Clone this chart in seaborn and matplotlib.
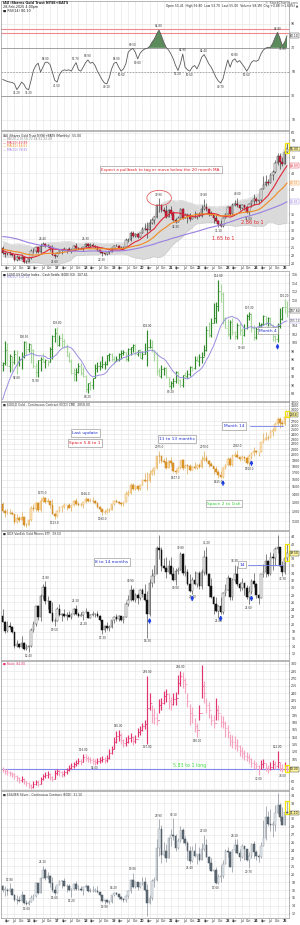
import numpy as np
import pandas as pd
import matplotlib
matplotlib.use("Agg")
import matplotlib.pyplot as plt
from matplotlib.patches import Ellipse, Rectangle
from matplotlib.ticker import MaxNLocator, FixedLocator, FuncFormatter, NullLocator
import seaborn as sns

# ------------------------------------------------------------------ data
months = pd.date_range("2015-02-01", periods=121, freq="MS")

rsi = [43.7, 42.9, 42.0, 41.5, 41.2, 40.1, 35.2, 38.0, 41.5, 39.6,
       36.0, 35.2, 42.9, 51.2, 55.3, 57.2, 49.8, 53.9, 58.0, 58.0,
       56.1, 49.8, 42.9, 41.5, 47.8, 50.6, 51.7, 51.2, 51.7, 50.6,
       54.5, 57.7, 51.7, 50.6, 53.9, 57.7, 59.9, 57.2, 58.0, 55.3,
       50.6, 47.0, 43.4, 40.7, 40.1, 45.1, 52.5, 57.2, 58.0, 53.9,
       50.6, 52.5, 56.7, 66.3, 68.5, 69.5, 66.3, 60.8, 65.5, 67.7,
       69.1, 69.6, 71.0, 74.6, 77.3, 81.5, 84.8, 80.1, 74.6, 70.4,
       68.2, 64.9, 60.8, 55.3, 51.2, 56.7, 64.9, 53.9, 51.7, 50.6,
       53.9, 55.3, 52.5, 56.7, 62.2, 64.4, 60.8, 56.7, 53.9, 49.8,
       45.6, 42.4, 40.7, 44.3, 52.5, 59.9, 53.9, 59.4, 60.8, 58.0,
       59.4, 56.7, 53.9, 50.6, 53.9, 58.0, 59.4, 58.8, 59.9, 64.9,
       68.2, 69.8, 70.4, 70.4, 73.8, 78.7, 82.8, 78.2, 71.8, 74.6,
       80.1]

iau_pre = [25.6, 27.1, 27.7, 29.9, 29.5, 28.8, 31.3, 35.1, 31.2, 33.2, 33.6, 30.1,
           33.4, 32.9, 32.1, 32.0, 30.0, 30.7, 31.1, 32.5, 34.1, 33.1, 32.9, 32.2,
           32.0, 30.3, 30.7, 28.4, 26.8, 23.7, 25.3, 26.8, 25.5, 25.4, 24.0, 23.1,
           23.9, 25.5, 24.7, 24.9, 24.0, 25.5, 24.7, 24.7, 23.3, 22.5, 22.6, 22.8,
           24.7]
iau_close = [23.3, 22.8, 22.8, 22.9, 22.5, 21.1, 21.8, 21.4, 22.0, 20.5, 20.4,
             21.5, 23.8, 23.7, 24.9, 23.4, 25.4, 26.0, 25.2, 25.3, 24.6, 22.6, 22.2,
             23.3, 24.0, 24.0, 24.4, 24.4, 23.9, 24.4, 25.4, 24.6, 24.4, 24.5, 25.1,
             25.9, 25.3, 25.5, 25.3, 25.0, 24.1, 23.5, 23.1, 22.9, 23.4, 23.5, 24.7,
             25.4, 25.3, 24.8, 24.7, 25.1, 27.1, 27.2, 29.2, 28.3, 29.1, 28.2, 29.2,
             30.5, 30.5, 30.3, 32.4, 33.3, 34.3, 38.0, 37.8, 36.3, 36.1, 34.2, 36.4,
             35.5, 33.3, 32.8, 34.0, 36.7, 34.0, 34.9, 34.9, 33.5, 34.3, 34.1, 35.2,
             34.5, 36.7, 37.3, 36.5, 35.3, 34.8, 33.9, 32.9, 31.9, 31.4, 34.0, 35.1,
             37.1, 35.1, 37.9, 38.3, 37.8, 36.9, 37.8, 37.3, 35.6, 38.2, 39.2, 39.7,
             39.2, 39.3, 42.9, 44.0, 44.8, 44.7, 47.1, 48.1, 50.7, 52.8, 51.1, 50.5,
             54.1, 55.0]
iau_high = [25.2, 23.5, 23.5, 23.7, 23.2, 22.6, 22.5, 22.3, 22.9, 22.0, 20.9,
            21.7, 24.3, 24.7, 25.1, 25.1, 26.2, 26.4, 26.3, 26.0, 25.3, 25.7, 22.7,
            23.5, 24.3, 24.3, 24.9, 24.5, 24.9, 24.5, 25.6, 26.1, 25.1, 25.0, 25.1,
            26.3, 26.2, 26.1, 26.3, 25.5, 25.2, 24.3, 23.6, 23.3, 23.9, 23.8, 24.7,
            25.5, 25.9, 25.5, 25.2, 25.1, 27.7, 27.9, 29.9, 29.9, 29.2, 29.2, 29.3,
            31.0, 32.5, 32.8, 33.6, 33.9, 34.4, 38.2, 39.9, 38.3, 37.2, 37.8, 36.7,
            37.7, 36.0, 33.8, 34.6, 36.8, 36.9, 35.3, 35.2, 35.3, 34.9, 36.1, 35.2,
            35.6, 38.0, 39.8, 38.4, 36.7, 36.1, 34.9, 34.8, 33.4, 33.3, 34.3, 35.3,
            37.5, 37.7, 38.6, 39.4, 40.0, 38.1, 38.2, 37.9, 37.6, 38.6, 39.5, 41.1,
            40.2, 39.5, 43.0, 46.8, 47.1, 45.9, 47.8, 48.7, 51.6, 53.7, 53.9, 52.4,
            54.2, 56.8]
iau_low = [22.9, 22.0, 22.5, 22.5, 22.3, 20.7, 20.8, 21.1, 21.3, 20.2, 20.1,
           20.4, 21.3, 23.2, 23.2, 23.1, 23.1, 25.2, 25.0, 25.1, 23.9, 22.5, 21.6,
           22.1, 23.1, 23.0, 23.9, 23.3, 23.8, 23.2, 24.4, 24.5, 24.2, 24.3, 23.8,
           25.0, 25.1, 25.1, 25.0, 24.7, 23.9, 23.3, 22.3, 22.7, 22.7, 23.0, 23.5,
           24.5, 25.2, 24.6, 24.3, 24.4, 25.1, 26.6, 26.9, 28.1, 28.1, 27.8, 28.0,
           29.2, 30.1, 27.9, 30.1, 32.1, 32.1, 33.8, 35.8, 35.6, 35.8, 33.9, 34.2,
           34.7, 33.0, 32.3, 32.8, 34.0, 33.7, 34.0, 32.5, 33.1, 33.5, 33.8, 33.7,
           34.2, 34.3, 36.3, 36.0, 34.4, 34.7, 32.3, 32.9, 31.1, 31.1, 31.1, 33.9,
           35.1, 34.7, 34.8, 37.5, 37.2, 36.4, 36.6, 36.3, 35.5, 34.8, 37.1, 37.9,
           38.5, 38.2, 39.2, 42.8, 43.8, 44.0, 44.6, 45.5, 47.5, 50.1, 48.8, 49.7,
           50.3, 53.7]
iau_open = [24.7] + iau_close[:-1]

usd_pre = [80.4, 79.8, 81.5, 82.8, 86.0, 86.9, 88.4, 90.3, 94.8]
usd_close = [95.3, 98.4, 94.6, 96.9, 95.5, 97.3, 95.8, 96.3, 97.0, 100.2, 98.6,
             99.6, 98.2, 94.6, 93.1, 95.9, 96.1, 95.5, 96.0, 95.5, 98.5, 101.5, 102.2,
             99.5, 101.1, 100.4, 99.0, 97.0, 95.6, 92.9, 92.7, 93.1, 94.6, 93.0, 92.1,
             89.1, 90.6, 90.0, 91.8, 94.0, 94.5, 94.5, 95.1, 95.1, 97.1, 97.3, 96.2,
             95.6, 96.2, 97.3, 97.5, 97.8, 96.1, 98.5, 98.9, 99.4, 97.4, 98.3, 96.4,
             97.4, 98.1, 99.0, 99.0, 98.3, 97.4, 93.3, 92.1, 93.9, 94.0, 91.9, 89.9,
             90.6, 90.9, 93.2, 91.3, 90.0, 92.4, 92.1, 92.6, 94.2, 94.1, 96.0, 95.7,
             96.6, 96.7, 98.3, 103.0, 101.8, 104.7, 105.9, 108.7, 112.1, 111.5, 105.9, 103.5,
             102.1, 104.9, 102.5, 101.7, 104.3, 102.9, 101.9, 103.6, 106.2, 106.7, 103.5, 101.3,
             103.3, 104.2, 104.5, 106.2, 104.7, 105.9, 104.1, 101.7, 100.8, 104.0, 105.7, 108.5,
             108.4, 107.6]
usd_high = [95.5, 100.4, 100.0, 97.4, 97.0, 98.2, 98.3, 96.8, 97.8, 100.5, 100.5,
            100.0, 99.8, 98.6, 95.2, 96.0, 96.7, 97.6, 96.2, 96.0, 99.1, 101.9, 103.6,
            103.8, 101.8, 102.3, 101.0, 99.7, 97.9, 96.3, 94.1, 94.0, 95.2, 95.2, 94.2,
            92.5, 90.6, 90.9, 91.8, 95.0, 95.5, 95.7, 96.9, 95.7, 97.2, 97.7, 97.7,
            96.9, 97.0, 97.7, 98.3, 98.4, 97.9, 98.7, 99.0, 99.7, 99.7, 98.4, 98.5,
            98.0, 99.9, 103.0, 100.9, 100.6, 98.3, 97.8, 94.0, 94.7, 94.3, 94.3, 92.0,
            91.0, 91.6, 93.4, 93.4, 91.4, 92.4, 93.2, 93.7, 94.5, 94.6, 96.9, 96.9,
            97.4, 97.8, 99.4, 103.9, 105.0, 105.8, 109.3, 109.5, 114.8, 113.9, 111.9, 106.0,
            105.6, 105.4, 105.9, 102.8, 104.7, 104.7, 103.5, 104.4, 106.8, 107.3, 107.1, 104.3,
            103.8, 104.9, 104.7, 106.5, 106.4, 106.1, 106.1, 104.4, 101.9, 104.6, 108.1, 108.5,
            110.2, 109.9]
usd_low = [93.4, 94.8, 94.5, 93.1, 93.3, 95.0, 92.6, 94.5, 93.8, 96.4, 97.2,
           97.9, 95.2, 94.0, 91.9, 91.9, 93.4, 95.4, 94.0, 94.5, 95.4, 96.3, 100.2,
           99.2, 99.2, 98.9, 98.8, 96.8, 95.5, 92.6, 91.0, 91.0, 92.8, 92.4, 91.9,
           88.4, 88.2, 89.0, 89.2, 91.6, 93.2, 93.7, 94.1, 93.8, 94.8, 95.7, 95.8,
           95.0, 95.6, 95.7, 96.3, 97.1, 95.8, 95.8, 97.1, 97.9, 97.1, 97.0, 96.4,
           96.2, 97.3, 94.6, 98.8, 97.9, 95.7, 92.5, 92.1, 91.7, 92.5, 91.8, 89.7,
           89.2, 89.7, 90.6, 90.4, 89.5, 89.5, 91.8, 91.8, 92.3, 93.3, 93.9, 95.6,
           94.6, 95.2, 97.0, 98.1, 101.3, 101.3, 104.6, 104.6, 107.6, 109.5, 104.4, 103.4,
           101.5, 100.8, 101.9, 100.8, 100.8, 101.9, 99.6, 101.7, 103.3, 105.3, 102.5, 100.6,
           101.0, 103.3, 102.4, 104.2, 104.1, 104.0, 103.9, 100.5, 100.2, 100.2, 103.4, 105.4,
           107.0, 106.1]
usd_open = [94.8] + usd_close[:-1]

gold_close = [1212, 1183, 1184, 1190, 1172, 1095, 1133, 1115, 1142, 1065, 1061,
              1118, 1238, 1233, 1293, 1215, 1322, 1351, 1309, 1316, 1277, 1173, 1152,
              1211, 1249, 1249, 1268, 1269, 1242, 1269, 1322, 1280, 1271, 1275, 1303,
              1345, 1318, 1325, 1315, 1299, 1253, 1224, 1201, 1192, 1215, 1222, 1282,
              1321, 1313, 1292, 1284, 1305, 1409, 1413, 1520, 1472, 1513, 1464, 1517,
              1587, 1585, 1577, 1687, 1730, 1781, 1975, 1968, 1886, 1879, 1776, 1895,
              1848, 1734, 1708, 1769, 1906, 1770, 1814, 1813, 1743, 1783, 1774, 1829,
              1796, 1909, 1937, 1897, 1837, 1807, 1765, 1711, 1661, 1633, 1768, 1824,
              1928, 1827, 1969, 1990, 1963, 1919, 1965, 1940, 1849, 1984, 2036, 2063,
              2039, 2044, 2230, 2286, 2327, 2326, 2447, 2503, 2634, 2744, 2657, 2625,
              2812, 2858]
gold_high = [1309, 1224, 1224, 1232, 1205, 1175, 1170, 1157, 1191, 1142, 1088,
             1128, 1263, 1283, 1304, 1304, 1362, 1375, 1367, 1352, 1317, 1338, 1182,
             1220, 1264, 1262, 1295, 1272, 1296, 1275, 1331, 1357, 1306, 1299, 1306,
             1366, 1361, 1356, 1365, 1326, 1309, 1266, 1225, 1214, 1243, 1237, 1284,
             1326, 1346, 1324, 1310, 1306, 1439, 1453, 1555, 1557, 1519, 1516, 1525,
             1611, 1689, 1704, 1747, 1765, 1789, 1984, 2075, 1992, 1933, 1965, 1906,
             1959, 1871, 1755, 1798, 1913, 1917, 1833, 1832, 1834, 1814, 1877, 1831,
             1853, 1974, 2070, 1998, 1909, 1879, 1814, 1808, 1735, 1729, 1786, 1833,
             1949, 1959, 2009, 2049, 2082, 1983, 1987, 1972, 1953, 2009, 2052, 2135,
             2088, 2055, 2236, 2431, 2450, 2388, 2483, 2531, 2685, 2790, 2801, 2726,
             2817, 2956]
gold_low = [1191, 1142, 1170, 1170, 1162, 1077, 1080, 1098, 1110, 1052, 1046,
            1061, 1107, 1208, 1207, 1199, 1199, 1310, 1302, 1304, 1241, 1171, 1123,
            1147, 1200, 1195, 1244, 1214, 1236, 1204, 1267, 1275, 1260, 1264, 1236,
            1302, 1307, 1303, 1302, 1282, 1245, 1211, 1160, 1180, 1182, 1196, 1221,
            1276, 1311, 1281, 1266, 1267, 1306, 1382, 1400, 1459, 1459, 1445, 1458,
            1517, 1563, 1451, 1567, 1670, 1671, 1757, 1863, 1849, 1860, 1764, 1776,
            1802, 1717, 1677, 1706, 1766, 1750, 1767, 1688, 1721, 1741, 1759, 1753,
            1780, 1781, 1890, 1872, 1787, 1805, 1681, 1709, 1615, 1618, 1616, 1765,
            1823, 1805, 1810, 1950, 1932, 1893, 1902, 1885, 1846, 1810, 1931, 1973,
            2002, 1984, 2039, 2228, 2277, 2287, 2318, 2364, 2471, 2604, 2537, 2583,
            2614, 2790]
gold_open = [1283] + gold_close[:-1]

gdx_close = [20.7, 18.2, 19.4, 19.3, 17.8, 14.0, 14.6, 13.7, 15.0, 13.3, 13.7,
             14.0, 18.3, 20.0, 24.9, 22.1, 27.7, 30.2, 26.4, 26.4, 23.2, 20.8, 20.9,
             24.3, 22.6, 22.8, 22.3, 22.5, 22.1, 22.7, 24.1, 22.9, 22.4, 22.6, 23.3,
             23.3, 21.7, 22.5, 22.8, 22.9, 22.3, 21.2, 18.3, 19.4, 19.0, 19.2, 21.1,
             22.0, 21.4, 22.3, 21.1, 22.0, 25.6, 26.8, 29.3, 26.7, 28.1, 27.1, 29.3,
             28.4, 26.7, 22.8, 31.3, 33.2, 33.9, 41.0, 40.3, 36.1, 35.4, 34.4, 36.0,
             33.9, 32.2, 34.6, 35.0, 39.2, 34.0, 34.3, 31.0, 29.2, 32.1, 31.1, 34.0,
             30.5, 34.3, 38.4, 33.8, 30.6, 27.4, 25.6, 23.6, 24.9, 23.3, 28.6, 29.5,
             32.7, 27.4, 32.1, 33.9, 31.1, 30.0, 31.3, 30.0, 27.4, 28.8, 31.9, 31.0,
             28.0, 27.2, 33.7, 34.4, 37.3, 33.9, 38.4, 38.3, 40.7, 41.1, 35.9, 34.4,
             38.3, 39.5]
gdx_high = [24.3, 21.0, 21.0, 20.7, 19.6, 17.8, 15.8, 15.0, 16.7, 15.1, 14.6,
            14.2, 18.9, 21.0, 25.0, 25.4, 28.4, 31.1, 31.8, 27.9, 26.5, 26.0, 21.6,
            24.7, 25.6, 23.1, 24.2, 23.3, 23.6, 23.1, 24.5, 25.3, 23.3, 23.5, 23.3,
            24.5, 23.3, 22.8, 23.6, 23.0, 23.6, 22.6, 21.3, 19.9, 20.5, 19.8, 21.3,
            22.3, 22.7, 22.6, 22.4, 22.2, 26.0, 28.0, 30.9, 30.0, 28.7, 28.5, 29.8,
            30.0, 31.0, 29.1, 32.4, 35.1, 36.2, 41.6, 44.5, 41.2, 38.2, 38.6, 37.7,
            38.5, 35.7, 35.4, 35.7, 39.8, 39.6, 36.2, 35.1, 33.7, 33.0, 34.5, 34.1,
            34.5, 35.1, 40.5, 41.2, 34.2, 32.6, 27.7, 27.4, 25.4, 27.6, 28.9, 31.0,
            33.6, 32.8, 32.6, 36.3, 36.0, 31.6, 32.6, 31.4, 30.7, 30.5, 32.5, 34.0,
            31.4, 28.4, 33.8, 36.5, 39.4, 37.6, 39.8, 39.7, 41.2, 44.4, 41.3, 37.5,
            38.8, 41.9]
gdx_low = [20.5, 17.5, 17.9, 18.8, 17.6, 13.4, 13.7, 13.5, 13.6, 12.9, 12.9,
           12.4, 13.9, 17.9, 19.5, 21.1, 21.0, 27.0, 25.6, 24.3, 23.0, 20.5, 19.5,
           20.8, 22.4, 20.8, 22.0, 21.3, 22.0, 21.5, 22.6, 22.6, 22.1, 22.2, 21.2,
           23.0, 21.6, 21.6, 22.3, 22.1, 22.1, 21.0, 17.3, 17.8, 18.3, 18.2, 19.1,
           20.4, 21.0, 20.8, 20.9, 20.4, 21.9, 24.9, 26.3, 26.3, 26.2, 25.6, 26.7,
           27.5, 26.3, 16.3, 22.2, 30.1, 31.4, 33.8, 38.0, 34.5, 35.2, 32.7, 33.9,
           33.5, 31.8, 30.9, 33.7, 34.8, 33.4, 33.3, 30.9, 28.9, 28.4, 30.8, 30.1,
           29.6, 29.7, 33.4, 33.4, 27.6, 27.3, 22.9, 23.4, 21.8, 22.9, 22.9, 27.8,
           29.4, 26.8, 26.6, 31.6, 30.6, 29.1, 29.5, 28.1, 26.9, 25.6, 28.4, 30.1,
           27.1, 25.6, 27.1, 32.9, 33.1, 33.2, 33.4, 34.9, 36.4, 39.7, 35.6, 33.3,
           33.9, 37.4]
gdx_open = [22.4] + gdx_close[:-1]

ratio_close = [84, 80, 78, 76, 74, 70, 66, 62, 64, 60, 56, 52, 48, 54, 58, 55, 64, 70, 73, 74,
               68, 65, 76, 80, 78, 75, 78, 82, 88, 92, 95, 98, 102, 100, 110, 108, 106, 104, 102, 100,
               101, 103, 106, 104, 108, 118, 125, 140, 152, 155, 145, 138, 140, 148, 150, 142, 146, 160, 165, 172,
               178, 210, 220, 195, 190, 185, 215, 220, 235, 238, 225, 218, 228, 230, 262, 275, 268, 258, 225, 200,
               195, 172, 165, 200, 255, 240, 215, 205, 185, 180, 205, 200, 182, 180, 168, 160, 142, 140, 135, 132,
               122, 118, 112, 110, 106, 98, 95, 92, 85, 95, 98, 88, 85, 90, 95, 92, 100, 88, 86, 92,
               84]
ratio_high = [90, 86, 84, 81, 79, 76, 72, 68, 70, 66, 61, 58, 55, 60, 63, 62, 69, 75, 78, 80,
              76, 71, 82, 86, 84, 81, 83, 88, 94, 98, 100, 104, 108, 106, 116, 115, 112, 110, 108, 106,
              107, 109, 112, 110, 114, 125, 132, 150, 162, 165, 158, 146, 150, 155, 158, 152, 154, 168, 172, 180,
              186, 276, 240, 215, 210, 200, 228, 230, 245, 248, 240, 232, 240, 242, 278, 286, 283, 272, 240, 218,
              212, 190, 180, 215, 297, 265, 230, 222, 198, 195, 230, 215, 196, 194, 184, 176, 156, 154, 152, 146,
              134, 130, 124, 120, 116, 108, 104, 100, 94, 104, 106, 98, 94, 100, 104, 102, 122, 100, 95, 100,
              94]
ratio_low = [78, 75, 73, 71, 68, 64, 60, 56, 58, 54, 50, 47, 45, 47, 52, 50, 55, 63, 66, 67,
             62, 60, 64, 73, 71, 68, 70, 75, 80, 84, 88, 91, 95, 94, 100, 101, 99, 97, 95, 94,
             95, 97, 99, 98, 100, 106, 115, 125, 138, 142, 136, 130, 132, 138, 140, 135, 138, 150, 155, 162,
             166, 137, 205, 180, 178, 175, 200, 205, 218, 222, 208, 206, 215, 216, 238, 255, 250, 240, 212, 176,
             180, 160, 150, 185, 230, 220, 200, 190, 175, 168, 185, 186, 170, 168, 150, 148, 132, 128, 125, 122,
             112, 108, 104, 102, 98, 90, 86, 84, 72, 84, 88, 80, 76, 82, 86, 84, 88, 80, 78, 82,
             78]
ratio_open = [86] + ratio_close[:-1]
ratio_level = 86

silver_close = [16.6, 16.6, 16.3, 16.7, 15.6, 14.7, 14.6, 14.5, 15.5, 14.1, 13.8,
                14.3, 15.0, 15.4, 17.8, 16.0, 18.7, 20.4, 18.7, 19.2, 17.8, 16.5, 15.9,
                17.5, 18.3, 18.2, 17.2, 17.3, 16.6, 16.7, 17.6, 16.7, 16.7, 16.5, 17.1,
                17.3, 16.4, 16.3, 16.4, 16.4, 16.1, 15.5, 14.5, 14.7, 14.2, 14.2, 15.5,
                16.0, 15.7, 15.1, 14.9, 14.6, 15.3, 16.4, 18.4, 17.0, 18.1, 17.0, 17.9,
                18.0, 16.6, 14.0, 15.0, 18.2, 18.4, 24.4, 28.0, 23.2, 23.9, 22.6, 26.4,
                26.9, 26.7, 24.5, 25.9, 27.9, 26.1, 25.5, 24.0, 22.1, 24.0, 22.9, 23.4,
                22.3, 24.3, 25.1, 22.8, 21.7, 20.2, 20.3, 17.8, 19.0, 19.2, 21.5, 24.0,
                23.8, 20.9, 24.1, 25.0, 23.6, 22.8, 24.8, 24.2, 22.3, 22.9, 25.3, 23.8,
                23.0, 22.7, 24.9, 26.4, 30.4, 29.1, 28.9, 28.9, 31.1, 32.7, 30.3, 28.9,
                31.3, 31.1]
silver_high = [17.4, 17.2, 16.8, 17.8, 16.9, 15.8, 15.6, 15.3, 16.4, 15.6, 14.6,
               14.6, 15.6, 15.8, 18.0, 17.8, 18.9, 21.1, 20.7, 20.0, 19.3, 18.9, 17.2,
               17.5, 18.5, 18.4, 18.7, 17.6, 17.7, 16.9, 17.8, 18.2, 17.4, 17.3, 17.1,
               17.7, 17.4, 16.9, 17.3, 16.9, 17.3, 16.1, 15.5, 14.8, 14.9, 14.6, 15.5,
               16.2, 16.2, 15.8, 15.3, 15.0, 15.5, 16.6, 18.6, 19.8, 18.3, 18.1, 18.1,
               18.9, 18.9, 17.6, 15.6, 18.6, 18.9, 26.2, 29.9, 28.9, 25.6, 25.2, 26.5,
               28.1, 30.1, 27.1, 26.4, 28.7, 28.3, 26.8, 25.8, 24.8, 24.8, 25.4, 23.4,
               24.7, 25.4, 27.0, 26.2, 22.9, 22.5, 20.4, 20.9, 19.6, 21.2, 22.3, 24.3,
               24.6, 23.9, 24.2, 26.1, 26.1, 24.3, 25.3, 24.8, 24.3, 23.7, 25.5, 25.9,
               24.1, 23.4, 25.7, 29.8, 32.5, 31.5, 31.8, 29.6, 32.7, 34.9, 33.0, 32.3,
               32.3, 33.4]
silver_low = [16.2, 15.3, 15.6, 16.1, 15.6, 14.4, 13.9, 14.2, 14.5, 13.9, 13.6,
              13.6, 14.3, 14.7, 15.2, 15.8, 15.9, 18.7, 18.5, 18.6, 17.0, 16.2, 15.6,
              15.9, 17.5, 16.8, 17.2, 16.2, 16.4, 15.2, 16.6, 16.6, 16.5, 16.4, 15.6,
              16.9, 16.2, 16.1, 16.1, 16.1, 15.9, 15.3, 14.3, 13.9, 14.1, 13.9, 14.1,
              15.3, 15.5, 14.9, 14.6, 14.3, 14.3, 15.0, 15.9, 16.8, 16.8, 16.6, 16.8,
              17.4, 16.4, 11.6, 13.9, 14.6, 17.0, 18.2, 23.0, 21.7, 23.0, 21.9, 22.6,
              24.8, 26.0, 24.0, 24.3, 25.7, 25.5, 25.1, 22.3, 21.4, 21.9, 22.8, 21.4,
              22.0, 22.2, 24.0, 22.8, 20.5, 20.1, 18.2, 17.6, 17.6, 18.1, 18.8, 21.5,
              22.8, 20.8, 19.9, 23.6, 23.3, 22.1, 22.5, 22.2, 22.1, 20.7, 22.5, 22.5,
              22.2, 21.9, 22.5, 24.8, 26.0, 28.6, 27.8, 26.5, 27.7, 30.9, 29.7, 28.8,
              28.8, 30.9]
silver_open = [17.2] + silver_close[:-1]

rsi_lines_red = [86, 82]

for name, arr in list(globals().items()):
    if isinstance(arr, list) and name.endswith(("close", "high", "low", "open")) and len(arr) != 121:
        raise SystemExit(f"{name} has {len(arr)} values")
if len(rsi) != 121:
    raise SystemExit(f"rsi has {len(rsi)}")

# ------------------------------------------------------------------ style
sns.set_theme(style="white")
plt.rcParams["font.family"] = ["DejaVu Sans"]
plt.rcParams["axes.linewidth"] = 0.5

W, H = 300, 925
fig = plt.figure(figsize=(3.0, 9.25), dpi=100)
fig.patch.set_facecolor("white")
N = 121
x = np.arange(N)
XL = (-0.68, N - 1 + 0.84)
qpos = [i for i, d in enumerate(months) if d.month in (1, 4, 7, 10)]
qlab = [("%02d" % (d.year % 100)) if d.month == 1 else d.strftime("%b")
        for d in months if d.month in (1, 4, 7, 10)]


def panel(top, bottom):
    return fig.add_axes([1 / W, 1 - bottom / H, 288 / W, (bottom - top) / H])


def style(ax, ylim, nb=14, log=False, fmt="{:.0f}", dates=False):
    ax.set_xlim(XL)
    if log:
        ax.set_yscale("log")
    ax.set_ylim(ylim)
    ax.yaxis.tick_right()
    ax.yaxis.set_major_locator(MaxNLocator(nb))
    ax.yaxis.set_minor_locator(NullLocator())
    ax.yaxis.set_major_formatter(FuncFormatter(lambda v, p: fmt.format(v)))
    ax.tick_params(axis="y", labelsize=2.3, length=1.0, width=0.3, pad=0.6, colors="#333")
    ax.set_xticks(qpos)
    ax.set_xticklabels(qlab)
    ax.tick_params(axis="x", length=0, labelsize=2.3, pad=0.8, colors="#333",
                   labelbottom=dates)
    if dates:
        for lab in ax.get_xticklabels():
            if lab.get_text().isdigit():
                lab.set_fontweight("bold")
    ax.grid(True, color="#e4e4e4", lw=0.4)
    ax.set_axisbelow(True)
    for s in ax.spines.values():
        s.set_color("#9a9a9a")
        s.set_linewidth(0.5)
    ax.set_xlabel("")
    ax.set_ylabel("")


def candles(ax, o, h, l, c, up_fc, up_ec, dn_fc, dn_ec, wick, w=0.68, minh=0.05):
    o, h, l, c = map(np.asarray, (o, h, l, c))
    up = c >= o
    ax.vlines(x, l, h, colors=wick, lw=0.45, zorder=2)
    bot = np.minimum(o, c)
    hgt = np.maximum(np.abs(c - o), minh)
    ax.bar(x[up], hgt[up], bottom=bot[up], width=w, color=up_fc, edgecolor=up_ec,
           linewidth=0.35, zorder=3)
    ax.bar(x[~up], hgt[~up], bottom=bot[~up], width=w, color=dn_fc, edgecolor=dn_ec,
           linewidth=0.35, zorder=3)


def ohlc(ax, o, h, l, c, up_col, dn_col, lw=0.75, t=0.42):
    o, h, l, c = map(np.asarray, (o, h, l, c))
    col = np.where(c >= o, up_col, dn_col)
    ax.vlines(x, l, h, colors=col, lw=lw, zorder=3)
    ax.hlines(o, x - t, x, colors=col, lw=lw * 0.8, zorder=3)
    ax.hlines(c, x, x + t, colors=col, lw=lw * 0.8, zorder=3)


def swings(ax, h, l, k=5, fmt="{:.2f}", fs=2.0, skip=(), edge_px=6.0):
    h = np.asarray(h, float)
    l = np.asarray(l, float)
    hpx = ax.get_position().height * H
    inv = ax.transAxes.inverted()

    def frac(v):
        return inv.transform(ax.transData.transform((0, v)))[1]

    for i in range(2, N - 1):
        if i in skip:
            continue
        a, b = max(0, i - k), min(N, i + k + 1)
        if a + int(np.argmax(h[a:b])) == i and (1 - frac(h[i])) * hpx > edge_px:
            ax.annotate(fmt.format(h[i]), (i, h[i]), xytext=(0, 1.2), textcoords="offset points",
                        ha="center", va="bottom", fontsize=fs, color="#333", zorder=6)
        if a + int(np.argmin(l[a:b])) == i and frac(l[i]) * hpx > edge_px:
            ax.annotate(fmt.format(l[i]), (i, l[i]), xytext=(0, -1.2), textcoords="offset points",
                        ha="center", va="top", fontsize=fs, color="#333", zorder=6)


def value_boxes(ax, items, sep_px=4.6):
    """items: list of (value, fmt, facecolor, edgecolor, textcolor); stacked on the right axis."""
    hpx = ax.get_position().height * H
    ys = []
    for it in items:
        disp = ax.transData.transform((0, it[0]))
        ys.append(ax.transAxes.inverted().transform(disp)[1])
    order = np.argsort(ys)[::-1]
    sep = sep_px / hpx
    placed = {}
    last = None
    for j in order:
        y = ys[j]
        if last is not None and last - y < sep:
            y = last - sep
        placed[j] = y
        last = y
    for j, it in enumerate(items):
        v, fmt, fc, ec, tc = it
        ax.text(1.004, placed[j], fmt.format(v), transform=ax.transAxes, fontsize=2.2,
                va="center", ha="left", color=tc,
                bbox=dict(boxstyle="square,pad=0.12", fc=fc, ec=ec, lw=0.3),
                clip_on=False, zorder=12)
    ticks = [t for t in ax.get_yticks()
             if ax.get_ylim()[0] <= t <= ax.get_ylim()[1]]
    keep = []
    for t in ticks:
        ty = ax.transAxes.inverted().transform(ax.transData.transform((0, t)))[1]
        if all(abs(ty - py) > sep for py in placed.values()):
            keep.append(t)
    ax.yaxis.set_major_locator(FixedLocator(keep))


def last_bar_mark(ax, h, l):
    ax.add_patch(Rectangle((N - 1 - 0.7, l[-1]), 1.4, h[-1] - l[-1], fill=False,
                           ec="#f2e200", lw=0.9, zorder=7, clip_on=False))


def note(ax, xf, yf, s, color, fs=3.0, box=True, ec="#888"):
    kw = dict(transform=ax.transAxes, fontsize=fs, color=color, ha="center", va="center", zorder=11)
    if box:
        kw["bbox"] = dict(boxstyle="square,pad=0.35", fc="white", ec=ec, lw=0.4)
    ax.text(xf, yf, s, **kw)


def arrow_up(ax, i, lows):
    ax.annotate("", xy=(i, lows[i]), xytext=(0, -4.8), textcoords="offset points",
                arrowprops=dict(arrowstyle="-|>", color="#1d3fe0", lw=1.1, mutation_scale=3.5,
                                shrinkA=0, shrinkB=1.0), zorder=9)


def ftxt(px, py, s, fs=2.4, color="#222", ha="left", weight="normal"):
    fig.text(px / W, 1 - py / H, s, fontsize=fs, color=color, ha=ha, va="center", fontweight=weight)


BK = "#111"
YEL = "#fff7a0"

# ------------------------------------------------------------------ P1 RSI
ax1 = panel(1, 130)
r = np.asarray(rsi)
sns.lineplot(x=x, y=r, ax=ax1, color="#5a5a5a", lw=0.6, legend=False, zorder=4)
ax1.fill_between(x, 70, r, where=r >= 70, interpolate=True, color="#5b8a5b", lw=0, zorder=3)
for v in rsi_lines_red:
    ax1.axhline(v, color="#f08a8a", lw=0.8, zorder=2)
ax1.axhline(70, color="#a0a0a0", lw=0.7, zorder=2)
ax1.axhline(30, color="#a0a0a0", lw=0.7, zorder=2)
ax1.axhline(50, color="#a0a0a0", lw=0.6, ls=(0, (2, 1.5)), zorder=2)
style(ax1, (1.6, 109))
ax1.yaxis.set_major_locator(FixedLocator([10, 30, 50, 70, 90]))
swings(ax1, r, r, k=4)
value_boxes(ax1, [(r[-1], "{:.2f}", "white", "#333", BK)])
ftxt(3, 3.5, "IAU iShares Gold Trust NYSE+BATS", weight="bold")
ftxt(3, 7, "28-Feb-2025 4:00pm")
ftxt(3, 10.5, "\u25a0 RSI(14) %.2f" % r[-1])
ftxt(298, 3, "\u00a9 StockCharts.com", ha="right", color="#555")
ftxt(298, 6.5, "Open 55.41  High 56.80  Low 53.70  Last 55.00  Volume 58.1M  Chg +0.88 (+1.63%) \u25b2",
     ha="right", fs=2.2)

# ------------------------------------------------------------------ P2 IAU candles + BB + MAs
ax2 = panel(131, 265)
full = pd.Series(iau_pre + iau_close, dtype=float)
ma10 = full.rolling(10).mean().values[-N:]
ma20 = full.rolling(20).mean().values[-N:]
ma50 = full.rolling(50).mean().values[-N:]
sd20 = full.rolling(20).std(ddof=0).values[-N:]
bb_up, bb_lo = ma20 + 2 * sd20, ma20 - 2 * sd20
ax2.fill_between(x, bb_lo, bb_up, color="#dadada", lw=0, zorder=1)
ax2.plot(x, bb_up, color="#c4c4c4", lw=0.3, zorder=1)
ax2.plot(x, bb_lo, color="#c4c4c4", lw=0.3, zorder=1)
candles(ax2, iau_open, iau_high, iau_low, iau_close, "white", "#333", "#d8213a", "#7a1020",
        "#333", minh=0.08)
sns.lineplot(x=x, y=ma10, ax=ax2, color="#e0283a", lw=0.8, legend=False, zorder=5)
sns.lineplot(x=x, y=ma20, ax=ax2, color="#f08a24", lw=0.8, legend=False, zorder=5)
sns.lineplot(x=x, y=ma50, ax=ax2, color="#9a7fe0", lw=0.8, legend=False, zorder=5)
style(ax2, (19.5, 60.5), nb=20, dates=True)
swings(ax2, iau_high, iau_low, k=5)
value_boxes(ax2, [(iau_close[-1], "{:.2f}", YEL, "#333", BK),
                  (ma10[-1], "{:.2f}", "white", "#e0283a", "#e0283a"),
                  (ma20[-1], "{:.2f}", "white", "#f08a24", "#f08a24"),
                  (ma50[-1], "{:.2f}", "white", "#9a7fe0", "#9a7fe0")])
last_bar_mark(ax2, iau_high, iau_low)
note(ax2, 0.556, 0.71, "Expect a pullback to tag or move below the 20 month MA.", "#e0202a", fs=3.0)
ax2.add_patch(Ellipse((0.549, 0.50), 0.085, 0.115, transform=ax2.transAxes, fill=False,
                      ec="#e04848", lw=0.5, zorder=8))
note(ax2, 0.77, 0.2, "1.65 to 1", "#e0202a", fs=3.6, box=False)
note(ax2, 0.872, 0.32, "2.86 to 1", "#e0202a", fs=3.6, box=False)
ftxt(3, 136, "IAU iShares Gold Trust NYSE+BATS (Monthly)  55.00", fs=2.2)
ftxt(3, 139.5, "\u2014 BB(20,2.0) %.2f %.2f %.2f" % (bb_up[-1], ma20[-1], bb_lo[-1]), fs=2.2, color="#888")
ftxt(3, 143, "\u2014 MA(10) %.2f" % ma10[-1], fs=2.2, color="#e0283a")
ftxt(3, 146.5, "\u2014 MA(20) %.2f" % ma20[-1], fs=2.2, color="#f08a24")
ftxt(3, 150, "\u2014 MA(50) %.2f" % ma50[-1], fs=2.2, color="#9a7fe0")

# ------------------------------------------------------------------ P3 US dollar
ax3 = panel(271, 401)
ufull = pd.Series(usd_pre + usd_close, dtype=float)
usd_ma10 = ufull.rolling(10).mean().values[-N:]
ohlc(ax3, usd_open, usd_high, usd_low, usd_close, "#2f8a2a", "#a7d69c", lw=0.85)
sns.lineplot(x=x, y=usd_ma10, ax=ax3, color="#9a8fe0", lw=0.7, legend=False, zorder=5)
style(ax3, (86.3, 116.9), nb=20)
swings(ax3, usd_high, usd_low, k=6, skip=(115, 116))
value_boxes(ax3, [(usd_close[-1], "{:.2f}", "white", "#333", BK),
                  (usd_ma10[-1], "{:.2f}", "white", "#9a8fe0", "#555")])
note(ax3, 0.927, 0.54, "Month 4", "#2233cc", fs=3.2)
arrow_up(ax3, 116, usd_low)
ftxt(3, 274, "\u25a0 $USD US Dollar Index - Cash Settle (EOD) ICE  107.61", fs=2.2)
ftxt(3, 277.5, "\u2014 MA(10) %.2f" % usd_ma10[-1], fs=2.2, color="#9a8fe0")

# ------------------------------------------------------------------ P4 gold (log)
ax4 = panel(402, 530)
candles(ax4, gold_open, gold_high, gold_low, gold_close, "#fbe6c2", "#eeb45a", "#e39a2c", "#c8841e",
        "#d9a045", minh=3)
style(ax4, (1018, 3204), nb=22, log=True)
swings(ax4, gold_high, gold_low, k=5, fmt="{:.1f}")
value_boxes(ax4, [(gold_close[-1], "{:.0f}", YEL, "#333", BK)])
last_bar_mark(ax4, gold_high, gold_low)
note(ax4, 0.292, 0.758, "Last update", "#2233cc", fs=3.2)
note(ax4, 0.292, 0.68, "Space 5.8 to 1", "#e0202a", fs=3.2)
note(ax4, 0.611, 0.711, "11 to 13 months", "#2233cc", fs=3.2)
note(ax4, 0.809, 0.8125, "Month 14", "#2233cc", fs=3.2)
ax4.plot([0.866, 0.98], [0.8125, 0.8125], transform=ax4.transAxes, color="#7080e8", lw=0.6, zorder=9)
note(ax4, 0.774, 0.207, "Space 2 to 1ish", "#33cc33", fs=3.2)
arrow_up(ax4, 93, gold_low)
arrow_up(ax4, 105, gold_low)
ftxt(3, 404, "\u25a0 $GOLD Gold - Continuous Contract (EOD) CME  2858.00", fs=2.2, color="#333")

# ------------------------------------------------------------------ P5 GDX
ax5 = panel(531, 660)
candles(ax5, gdx_open, gdx_high, gdx_low, gdx_close, "white", "#555", "#111", "#111", "#444", minh=0.1)
style(ax5, (10.2, 45.6), nb=22)
swings(ax5, gdx_high, gdx_low, k=5)
value_boxes(ax5, [(gdx_close[-1], "{:.2f}", YEL, "#333", BK)])
last_bar_mark(ax5, gdx_high, gdx_low)
note(ax5, 0.385, 0.76, "8 to 14 months", "#2233cc", fs=3.2)
note(ax5, 0.837, 0.74, "14", "#2233cc", fs=3.2)
ax5.plot([0.858, 0.979], [0.74, 0.74], transform=ax5.transAxes, color="#7080e8", lw=0.6, zorder=9)
for i in (62, 80, 92, 105):
    arrow_up(ax5, i, gdx_low)
ftxt(3, 534, "\u25a0 GDX VanEck Gold Miners ETF  39.50", fs=2.2, color="#333")

# ------------------------------------------------------------------ P6 ratio
ax6 = panel(661, 790)
ohlc(ax6, ratio_open, ratio_high, ratio_low, ratio_close, "#e2346e", "#f4a3c0", lw=0.85)
ax6.axhline(ratio_level, color="#7f86ee", lw=0.8, zorder=2)
style(ax6, (42, 306), nb=22)
swings(ax6, ratio_high, ratio_low, k=5)
value_boxes(ax6, [(ratio_close[-1], "{:.2f}", YEL, "#333", BK)])
last_bar_mark(ax6, ratio_high, ratio_low)
note(ax6, 0.656, 0.19, "5.83 to 1 long", "#44dd44", fs=3.4, box=False)
ftxt(3, 664, "\u25a0 Ratio  84.00", fs=2.2, color="#e2346e")

# ------------------------------------------------------------------ P7 silver
ax7 = panel(791, 918)
candles(ax7, silver_open, silver_high, silver_low, silver_close, "#e8ebee", "#98a2aa", "#5d6a73",
        "#4a5660", "#7d878f", minh=0.05)
style(ax7, (11.2, 35.3), nb=24, dates=True)
swings(ax7, silver_high, silver_low, k=5)
value_boxes(ax7, [(silver_close[-1], "{:.2f}", YEL, "#333", BK)])
last_bar_mark(ax7, silver_high, silver_low)
ftxt(3, 794, "\u25a0 $SILVER Silver - Continuous Contract (EOD)  31.10", fs=2.2, color="#333")

fig.savefig("out.png", dpi=100, facecolor="white")
